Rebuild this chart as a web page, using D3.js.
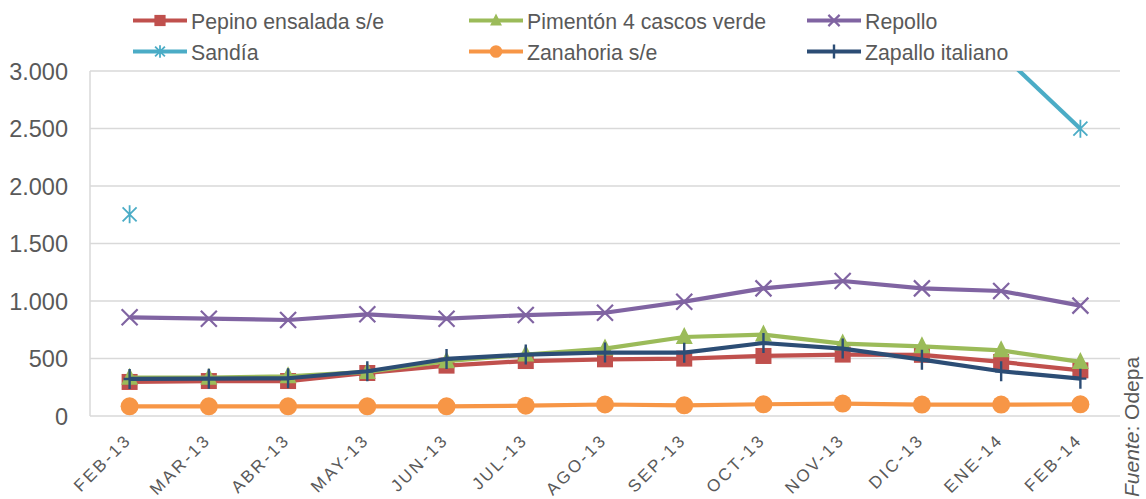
<!DOCTYPE html>
<html>
<head>
<meta charset="utf-8">
<script src="https://cdn.jsdelivr.net/npm/d3@7"></script>
<style>
  body { margin: 0; background: #fff; }
  text { font-family: "Liberation Sans", Arial, sans-serif; fill: #595959; }
</style>
</head>
<body>
<svg width="1146" height="499"></svg>
<script>
// months on the x axis
const months = ["FEB-13","MAR-13","ABR-13","MAY-13","JUN-13","JUL-13","AGO-13",
                "SEP-13","OCT-13","NOV-13","DIC-13","ENE-14","FEB-14"];

const pepino    = [296, 304, 304, 374, 438, 478, 493, 499, 522, 534, 532, 470, 397];
const pimenton  = [333, 333, 345, 383, 476, 534, 586, 687, 708, 630, 606, 571, 470];
const repollo   = [858, 846, 835, 884, 846, 878, 898, 994, 1110, 1174, 1110, 1087, 960];
const sandia    = [1754, null, null, null, null, null, null, null, null, null, null, 3150, 2498];
const zanahoria = [84, 84, 84, 84, 84, 90, 100, 93, 102, 108, 99, 99, 102];
const zapallo   = [322, 325, 328, 389, 496, 534, 552, 551, 635, 586, 490, 389, 325];

const yTicks = [0, 500, 1000, 1500, 2000, 2500, 3000];

const series = [
  {name: "Pepino ensalada s/e",     values: pepino,    color: "#c0504d", marker: "square"},
  {name: "Pimentón 4 cascos verde", values: pimenton,  color: "#9bbb59", marker: "triangle"},
  {name: "Repollo",                 values: repollo,   color: "#8064a2", marker: "x"},
  {name: "Sandía",                  values: sandia,    color: "#4bacc6", marker: "star"},
  {name: "Zanahoria s/e",           values: zanahoria, color: "#f79646", marker: "circle"},
  {name: "Zapallo italiano",        values: zapallo,   color: "#2c4d75", marker: "plus"}
];

const svg = d3.select("svg");
const pLeft = 90, pRight = 1120, pTop = 71, pBottom = 416;

const x = d3.scalePoint().domain(months).range([pLeft, pRight]).padding(0.5);
const y = d3.scaleLinear().domain([0, 3000]).range([pBottom, pTop]);

svg.append("defs").append("clipPath").attr("id", "plot")
  .append("rect").attr("x", pLeft).attr("y", pTop).attr("width", pRight - pLeft).attr("height", pBottom - pTop);

// gridlines
svg.append("g").selectAll("line").data(yTicks).join("line")
  .attr("x1", pLeft).attr("x2", pRight)
  .attr("y1", d => y(d)).attr("y2", d => y(d))
  .attr("stroke", "#d9d9d9").attr("stroke-width", 1.5);
svg.append("line").attr("x1", pLeft).attr("x2", pLeft).attr("y1", pTop).attr("y2", pBottom)
  .attr("stroke", "#d9d9d9").attr("stroke-width", 1.5);

// y axis labels
const fmt = d3.formatLocale({decimal: ",", thousands: ".", grouping: [3], currency: ["$", ""]}).format(",");
svg.append("g").selectAll("text").data(yTicks).join("text")
  .attr("x", 68).attr("y", d => y(d) + 8.5)
  .attr("text-anchor", "end").attr("font-size", 23.5)
  .text(d => fmt(d));

// x axis labels
svg.append("g").selectAll("text").data(months).join("text")
  .attr("transform", d => `translate(${x(d) + 3},${pBottom + 25}) rotate(-45)`)
  .attr("text-anchor", "end").attr("font-size", 17).attr("letter-spacing", 2.6)
  .text(d => d);

// k scales the marker (legend markers are smaller)
function drawMarker(g, type, color, k) {
  if (type === "square") {
    g.append("rect").attr("x", -8 * k).attr("y", -8 * k).attr("width", 16 * k).attr("height", 16 * k).attr("fill", color);
  } else if (type === "triangle") {
    g.append("path").attr("d", `M0,${-10 * k}L${8.5 * k},${7 * k}L${-8.5 * k},${7 * k}Z`).attr("fill", color);
  } else if (type === "circle") {
    g.append("circle").attr("r", 9 * k).attr("fill", color);
  } else if (type === "x") {
    g.append("path").attr("d", `M${-8 * k},${-8 * k}L${8 * k},${8 * k}M${-8 * k},${8 * k}L${8 * k},${-8 * k}`)
      .attr("stroke", color).attr("stroke-width", 2.2);
  } else if (type === "plus") {
    g.append("path").attr("d", `M0,${-10 * k}L0,${10 * k}M${-6 * k},0L${6 * k},0`)
      .attr("stroke", color).attr("stroke-width", 2.4);
  } else if (type === "star") {
    g.append("path").attr("d", `M${-7 * k},${-7 * k}L${7 * k},${7 * k}M${-7 * k},${7 * k}L${7 * k},${-7 * k}M0,${-9 * k}L0,${9 * k}`)
      .attr("stroke", color).attr("stroke-width", 1.8);
  }
}

const line = d3.line()
  .defined(d => d != null)
  .x((d, i) => x(months[i]))
  .y(d => y(d));

const plot = svg.append("g").attr("clip-path", "url(#plot)");
series.forEach(s => {
  plot.append("path").datum(s.values)
    .attr("d", line).attr("fill", "none")
    .attr("stroke", s.color).attr("stroke-width", 4.2).attr("stroke-linejoin", "round");
  s.values.forEach((v, i) => {
    if (v == null) return;
    const g = plot.append("g").attr("transform", `translate(${x(months[i])},${y(v)})`);
    drawMarker(g, s.marker, s.color, 1);
  });
});

// legend
const legCols = [133, 469, 807];
series.forEach((s, i) => {
  const lx = legCols[i % 3], ly = i < 3 ? 20.5 : 51.5;
  const g = svg.append("g").attr("transform", `translate(${lx},${ly})`);
  g.append("line").attr("x1", 0).attr("x2", 54).attr("stroke", s.color).attr("stroke-width", 4.2);
  const m = g.append("g").attr("transform", "translate(27,0)");
  drawMarker(m, s.marker, s.color, 0.7);
  g.append("text").attr("x", 58).attr("y", 8.5).attr("font-size", 21.3).text(s.name);
});

// source note
const src = svg.append("text")
  .attr("transform", "translate(1139,497) rotate(-90)")
  .attr("font-size", 21);
src.append("tspan").attr("font-style", "italic").text("Fuente");
src.append("tspan").text(": Odepa");
</script>
</body>
</html>
